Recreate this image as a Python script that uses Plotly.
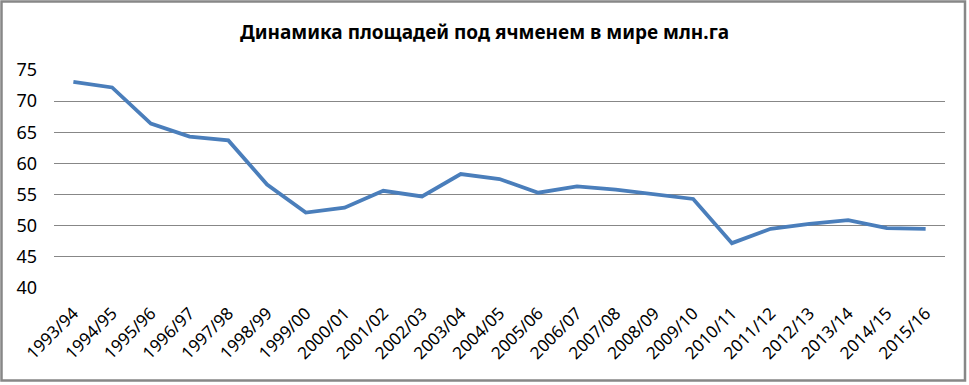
import plotly.graph_objects as go

seasons = ["1993/94", "1994/95", "1995/96", "1996/97", "1997/98", "1998/99", "1999/00",
           "2000/01", "2001/02", "2002/03", "2003/04", "2004/05", "2005/06", "2006/07",
           "2007/08", "2008/09", "2009/10", "2010/11", "2011/12", "2012/13", "2013/14",
           "2014/15", "2015/16"]
area = [73.1, 72.2, 66.4, 64.3, 63.7, 56.6, 52.1, 52.9, 55.6, 54.7, 58.3, 57.5, 55.3,
        56.3, 55.8, 55.1, 54.3, 47.2, 49.5, 50.3, 50.9, 49.6, 49.5]
y_ticks = [40, 45, 50, 55, 60, 65, 70, 75]
title = "Динамика площадей под ячменем в мире млн.га"

W, H = 969, 385
ml, mr, mt, mb = 54, 24, 70, 97
pw, ph = W - ml - mr, H - mt - mb

def px(x):
    return (x - ml) / pw

def py(y):
    return (H - mb - y) / ph

fig = go.Figure()
fig.add_trace(go.Scatter(x=seasons, y=area, mode="lines",
                         line=dict(color="#4A7EBB", width=3.8), hoverinfo="x+y"))

fig.update_layout(
    width=W, height=H,
    margin=dict(l=ml, r=mr, t=mt, b=mb, autoexpand=False),
    paper_bgcolor="white", plot_bgcolor="white",
    showlegend=False,
    font=dict(family="Noto Sans, sans-serif", color="black"),
    title=dict(text="<b>" + title + "</b>", x=0.5, xanchor="center",
               y=1 - 32 / H, yanchor="middle", font=dict(size=19, color="black")),
    xaxis=dict(type="category", range=[-0.5, len(seasons) - 0.5], tickangle=-45,
               tickfont=dict(size=17), automargin=False, ticklabelstandoff=11,
               showgrid=False, zeroline=False, showline=False, ticks=""),
    yaxis=dict(range=[40, 75], tickvals=y_ticks, tickfont=dict(size=18), automargin=False,
               showgrid=True, gridcolor="#878787", gridwidth=1, zeroline=False,
               showline=False, ticks="", ticklabelstandoff=16),
    shapes=[dict(type="rect", xref="paper", yref="paper",
                 x0=px(1.5), x1=px(965), y0=py(380.5), y1=py(1.5),
                 line=dict(color="#878787", width=2.5), fillcolor="rgba(0,0,0,0)",
                 layer="above")],
)

fig.write_html("out.html", config={"displayModeBar": False},
               post_script="document.body.style.margin='0';document.body.style.overflow='hidden';")
